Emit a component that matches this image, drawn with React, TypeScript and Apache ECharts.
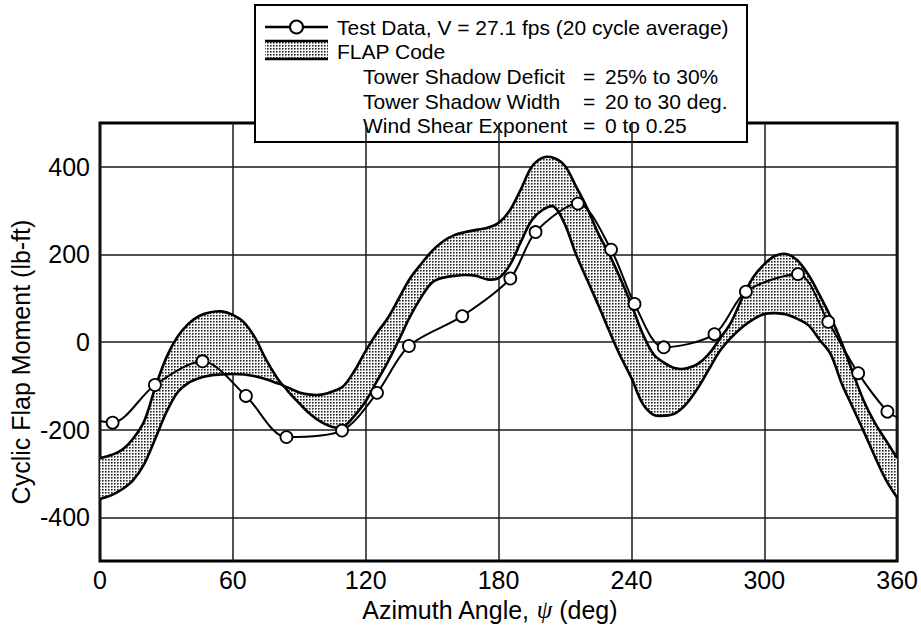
import React, { useEffect, useRef } from "react";
import * as echarts from "echarts";

const xTicks = [0, 60, 120, 180, 240, 300, 360];
const yTicks = [-400, -200, 0, 200, 400];

// Test data (20 cycle average) - circles
const testAzimuth = [5.7, 24.8, 46.3, 65.9, 84.2, 109.3, 125.1, 139.5, 163.6, 185.3, 196.7, 215.8, 230.8, 241.4, 254.6, 277.5, 291.7, 315.2, 328.9, 342.4, 355.6];
const testMoment = [-184, -98, -44, -123, -217, -202, -116, -9, 59, 145, 251, 316, 211, 87, -12, 18, 115, 155, 46, -71, -159];
// where the test line meets the plot edges (no marker)
const edgeAzimuth = [0, 360];
const edgeMoment = [-180, -172];

// FLAP code band envelope
const flapAzimuth = [0, 5, 10, 15, 20, 25, 30, 35, 40, 45, 50, 55, 60, 65, 70, 75, 80, 82.7, 85, 90, 95, 100, 105, 110, 115, 120, 125, 130, 135, 140, 145, 150, 155, 160, 165, 170, 175, 180, 185, 190, 195, 200, 205, 210, 215, 220, 225, 230, 235, 240, 245, 250, 255, 260, 265, 270, 275, 280, 285, 290, 295, 300, 305, 310, 315, 320, 325, 330, 335, 340, 345, 350, 355, 360];
const flapUpper = [-265, -258, -246, -220, -180, -103, -35, 12, 42, 60, 68, 70, 62, 45, 10, -40, -82, -99, -104, -115, -120, -120, -113, -100, -65, -20, 20, 55, 100, 145, 178, 208, 230, 244, 251, 256, 261, 272, 300, 348, 400, 421, 420, 402, 355, 306, 248, 200, 145, 85, 20, -28, -48, -60, -60, -50, -27, 8, 45, 100, 148, 178, 197, 201, 186, 153, 107, 57, -2, -70, -135, -185, -225, -265];
const flapLower = [-358, -350, -336, -315, -278, -220, -160, -115, -93, -82, -76, -74, -73, -74, -78, -85, -94, -99, -113, -140, -165, -183, -194, -193, -168, -135, -90, -45, 5, 58, 102, 136, 147, 151, 153, 151, 143, 146, 175, 228, 278, 302, 309, 268, 200, 142, 85, 25, -32, -82, -140, -166, -168, -162, -140, -105, -62, -20, 10, 34, 52, 64, 66, 63, 53, 38, 5, -28, -95, -150, -205, -262, -315, -355];

const FONT = '"Liberation Sans", Arial, Helvetica, sans-serif';
const SMOOTH = 0.35;

export default function App() {
  const ref = useRef<HTMLDivElement>(null);

  useEffect(() => {
    document.body.style.margin = "0";
    if (!ref.current) return;
    const chart = echarts.init(ref.current, null, { renderer: "svg" });

    // stipple tile for the FLAP band
    const c = document.createElement("canvas");
    c.width = 3;
    c.height = 3;
    const ctx = c.getContext("2d")!;
    ctx.fillStyle = "#f8f8f8";
    ctx.fillRect(0, 0, 3, 3);
    ctx.fillStyle = "#222222";
    ctx.fillRect(0, 0, 1, 1);
    ctx.fillStyle = "#777777";
    ctx.fillRect(1, 0, 1, 1);
    ctx.fillRect(0, 1, 1, 1);
    ctx.fillStyle = "#bbbbbb";
    ctx.fillRect(1, 1, 1, 1);
    const pattern: any = { image: c.toDataURL(), repeat: "repeat", imageWidth: 3, imageHeight: 3 };

    const bandData = flapAzimuth.map((x, i) => [x, flapUpper[i], flapLower[i]]);
    const testData: any[] = [
      { value: [edgeAzimuth[0], edgeMoment[0]], symbol: "none" },
      ...testAzimuth.map((x, i) => [x, testMoment[i]]),
      { value: [edgeAzimuth[1], edgeMoment[1]], symbol: "none" },
    ];

    const renderBand = (params: any, api: any) => {
      if (params.dataIndex !== 0) return null;
      const up = bandData.map((d) => api.coord([d[0], d[1]]));
      const lo = bandData.map((d) => api.coord([d[0], d[2]]));
      const n = up.length;
      const loRev = lo.slice().reverse();
      const poly = [up[0], ...up, up[n - 1], loRev[0], ...loRev, loRev[n - 1]];
      return {
        type: "group",
        children: [
          {
            type: "polygon",
            shape: { points: poly, smooth: SMOOTH },
            style: { fill: pattern, stroke: null },
          },
          {
            type: "polyline",
            shape: { points: up, smooth: SMOOTH },
            style: { stroke: "#000", lineWidth: 2.6, fill: null },
          },
          {
            type: "polyline",
            shape: { points: lo, smooth: SMOOTH },
            style: { stroke: "#000", lineWidth: 2.6, fill: null },
          },
        ],
      };
    };

    const textStyle = (text: string, x: number, y: number) => ({
      type: "text",
      x,
      y,
      style: {
        text,
        font: `21px ${FONT}`,
        fill: "#000",
        textVerticalAlign: "middle",
        verticalAlign: "middle",
      },
    });

    const option: any = {
      animation: false,
      backgroundColor: "#fff",
      grid: {
        left: 100,
        top: 123,
        width: 798,
        height: 442,
        show: true,
        borderColor: "#000",
        borderWidth: 3,
        backgroundColor: "transparent",
      },
      xAxis: {
        type: "value",
        min: 0,
        max: 360,
        interval: 60,
        axisLine: { show: false },
        axisTick: { show: false },
        splitLine: { show: true, lineStyle: { color: "#1a1a1a", width: 1.5 } },
        axisLabel: {
          margin: 6,
          fontSize: 25,
          fontFamily: FONT,
          color: "#000",
          formatter: (v: number) => (xTicks.includes(v) ? String(v) : ""),
        },
        name: "Azimuth Angle, {i|ψ} (deg)",
        nameLocation: "middle",
        nameGap: 35,
        nameTextStyle: {
          fontSize: 25,
          fontFamily: FONT,
          color: "#000",
          padding: [0, 18, 0, 0],
          rich: {
            i: { fontSize: 25, fontFamily: '"Liberation Serif", "DejaVu Serif", serif', fontStyle: "italic", color: "#000" },
          },
        },
      },
      yAxis: {
        type: "value",
        min: -500,
        max: 500,
        interval: 100,
        axisLine: { show: false },
        axisTick: { show: false },
        splitLine: {
          show: true,
          lineStyle: { color: ["transparent", "#1a1a1a"], width: 1.5 },
        },
        axisLabel: {
          margin: 10,
          fontSize: 25,
          fontFamily: FONT,
          color: "#000",
          formatter: (v: number) => (yTicks.includes(v) ? String(v) : ""),
        },
      },
      series: [
        {
          type: "custom",
          name: "FLAP Code",
          data: bandData,
          encode: { x: 0, y: [1, 2] },
          clip: true,
          renderItem: renderBand,
          z: 2,
        },
        {
          type: "line",
          name: "Test Data",
          data: testData,
          smooth: 0.3,
          symbol: "circle",
          symbolSize: 12,
          itemStyle: { color: "#fff", borderColor: "#000", borderWidth: 1.8 },
          lineStyle: { color: "#000", width: 2 },
          z: 5,
        },
      ],
      graphic: [
        {
          type: "text",
          x: 21,
          y: 362,
          rotation: Math.PI / 2,
          z: 100,
          style: {
            text: "Cyclic Flap Moment (lb-ft)",
            font: `25px ${FONT}`,
            fill: "#000",
            textAlign: "center",
            align: "center",
            textVerticalAlign: "middle",
            verticalAlign: "middle",
          },
        },
        {
          type: "group",
          z: 100,
          children: [
            {
              type: "rect",
              shape: { x: 255, y: 5, width: 492, height: 137 },
              style: { fill: "#fff", stroke: "#000", lineWidth: 2 },
            },
            {
              type: "line",
              shape: { x1: 265, y1: 27, x2: 328, y2: 27 },
              style: { stroke: "#000", lineWidth: 2.5 },
            },
            {
              type: "circle",
              shape: { cx: 296.5, cy: 27, r: 6.5 },
              style: { fill: "#fff", stroke: "#000", lineWidth: 2 },
            },
            textStyle("Test Data, V = 27.1 fps (20 cycle average)", 337, 27),
            {
              type: "rect",
              shape: { x: 265, y: 41, width: 63, height: 18 },
              style: { fill: pattern },
            },
            {
              type: "line",
              shape: { x1: 265, y1: 41, x2: 328, y2: 41 },
              style: { stroke: "#000", lineWidth: 2.5 },
            },
            {
              type: "line",
              shape: { x1: 265, y1: 59, x2: 328, y2: 59 },
              style: { stroke: "#000", lineWidth: 2.5 },
            },
            textStyle("FLAP Code", 337, 51),
            textStyle("Tower Shadow Deficit", 363, 76),
            textStyle("=", 583, 76),
            textStyle("25% to 30%", 605, 76),
            textStyle("Tower Shadow Width", 363, 101),
            textStyle("=", 583, 101),
            textStyle("20 to 30 deg.", 605, 101),
            textStyle("Wind Shear Exponent", 363, 125),
            textStyle("=", 583, 125),
            textStyle("0 to 0.25", 605, 125),
          ],
        },
      ],
    };

    chart.setOption(option);
    return () => chart.dispose();
  }, []);

  return <div ref={ref} style={{ width: 921, height: 627 }} />;
}
